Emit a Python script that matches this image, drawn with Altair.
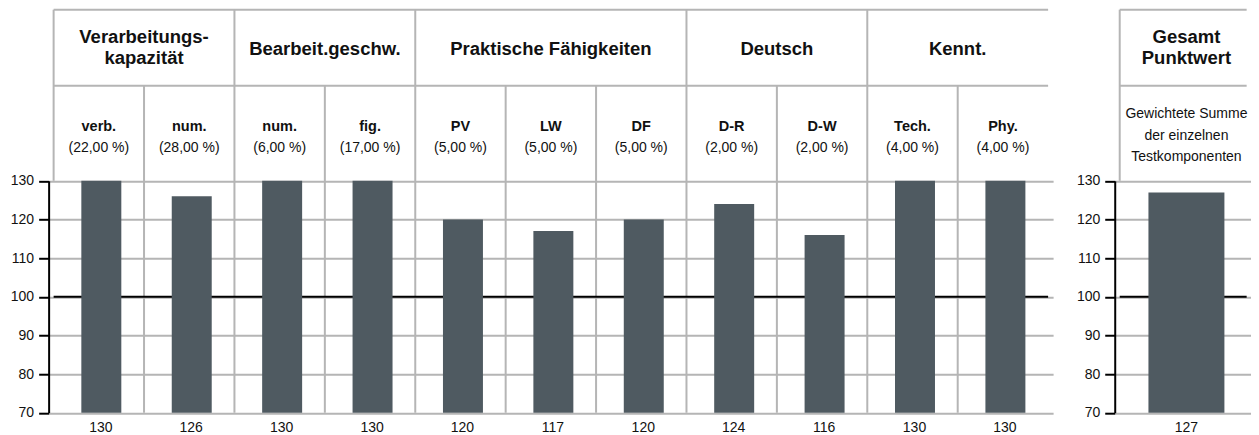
import altair as alt
import pandas as pd

# ---------------- data ----------------
groups = ["Verarbeitungs-\nkapazität", "Bearbeit.geschw.", "Praktische Fähigkeiten", "Deutsch", "Kennt."]
group_sizes = [2, 2, 3, 2, 2]
subtests = ["verb.", "num.", "num.", "fig.", "PV", "LW", "DF", "D-R", "D-W", "Tech.", "Phy."]
weights = [22, 28, 6, 17, 5, 5, 5, 2, 2, 4, 4]
scores = [130, 126, 130, 130, 120, 117, 120, 124, 116, 130, 130]
total_title = ["Gesamt\nPunktwert"]
total_note = ["Gewichtete Summe\nder einzelnen\nTestkomponenten"]
total_score = [127]
y_ticks = [70, 80, 90, 100, 110, 120, 130]
reference_line = 100

# ---------------- style ----------------
FONT = "Liberation Sans"
GRID = "#b5b5b5"
BAR = "#4f5a61"
TXT = "#111111"
LW = 1005
RW = 137
H = 405
Y_RANGE = [404.5, 172.5]
ROW_Y = 77.5
TOP_Y = 1.3
TITLE_Y = 41
TITLE_UP = 12.3
TITLE_LH = 20.6

n = len(subtests)
bars = pd.DataFrame({
    "pos": [i + 0.5 for i in range(n)],
    "score": scores,
    "sub": subtests,
    "weight": [f"({w:.2f} %)".replace(".", ",") for w in weights],
})
starts = []
s = 0
for g in group_sizes:
    starts.append(s)
    s += g
grp = pd.DataFrame({"title": groups, "mid": [st + g / 2 for st, g in zip(starts, group_sizes)]})
full_div = pd.DataFrame({"pos": starts[1:]})
part_div = pd.DataFrame({"pos": [i for i in range(1, n) if i not in starts]})
one = pd.DataFrame({"a": [0]})

ys = alt.Scale(domain=[70, 130], range=Y_RANGE, nice=False, zero=False)
yaxis = alt.Axis(values=y_ticks, grid=True, gridColor=GRID, gridWidth=2,
                 domainColor="black", domainWidth=2, tickColor="black", tickWidth=2,
                 tickSize=10, labelPadding=5, labelFontSize=14, labelFont=FONT,
                 labelColor=TXT, title=None)


def title_layers(title_df, title_field, title_x, xs):
    out = []
    for nl in (1, 2):
        out.append(
            alt.Chart(title_df)
            .transform_calculate(nl=f"length(split(datum.{title_field}, '\\n'))")
            .transform_filter(f"datum.nl == {nl}")
            .mark_text(font=FONT, fontSize=18.5, fontWeight="bold", color=TXT,
                       lineBreak="\n", lineHeight=TITLE_LH, baseline="middle")
            .encode(x=alt.X(title_x, scale=xs, axis=None),
                    y=alt.value(TITLE_Y - TITLE_UP * (nl - 1)),
                    text=f"{title_field}:N")
        )
    return out


def panel(xmax, bar_df, width, bar_size, bar_shift, title_df, title_field, title_x, header_layers):
    xs = alt.Scale(domain=[0, xmax], nice=False, zero=False)
    X = lambda f: alt.X(f, scale=xs, axis=None)
    top = alt.Chart(one).mark_rule(color=GRID, strokeWidth=2).encode(
        x=alt.XDatum(0, scale=xs, axis=None), x2=alt.X2Datum(xmax), y=alt.value(TOP_Y))
    row = alt.Chart(one).mark_rule(color=GRID, strokeWidth=2).encode(
        x=alt.XDatum(0, scale=xs, axis=None), x2=alt.X2Datum(xmax), y=alt.value(ROW_Y))
    left = alt.Chart(one).mark_rule(color=GRID, strokeWidth=2).encode(
        x=alt.XDatum(0, scale=xs, axis=None), y=alt.value(TOP_Y), y2=alt.value(Y_RANGE[1]))
    ref = alt.Chart(one).mark_rule(color="black", strokeWidth=2).encode(
        x=alt.XDatum(0, scale=xs, axis=None), x2=alt.X2Datum(xmax),
        y=alt.YDatum(reference_line, scale=ys, axis=yaxis))
    b = alt.Chart(bar_df).mark_bar(size=bar_size, color=BAR, xOffset=bar_shift).encode(
        x=X("pos:Q"), y=alt.Y("score:Q", scale=ys, axis=yaxis), y2=alt.Y2Datum(70))
    vals = alt.Chart(bar_df).mark_text(font=FONT, fontSize=14, color=TXT, baseline="alphabetic",
                                       dy=19, dx=bar_shift * 0.8).encode(
        x=X("pos:Q"), y=alt.YDatum(70, scale=ys, axis=yaxis), text="score:Q")
    layers = ([top, row, left] + [h(xs) for h in header_layers] + [ref, b, vals]
              + title_layers(title_df, title_field, title_x, xs))
    return alt.layer(*layers).properties(width=width, height=H)


def left_headers():
    def full(xs):
        return alt.Chart(full_div).mark_rule(color=GRID, strokeWidth=2).encode(
            x=alt.X("pos:Q", scale=xs, axis=None), y=alt.value(TOP_Y), y2=alt.value(Y_RANGE[0]))

    def part(xs):
        return alt.Chart(part_div).mark_rule(color=GRID, strokeWidth=2).encode(
            x=alt.X("pos:Q", scale=xs, axis=None), y=alt.value(ROW_Y), y2=alt.value(Y_RANGE[0]))

    def subs(xs):
        return alt.Chart(bars).mark_text(font=FONT, fontSize=14.5, fontWeight="bold", color=TXT,
                                         baseline="alphabetic").encode(
            x=alt.X("pos:Q", scale=xs, axis=None), y=alt.value(122.5), text="sub:N")

    def wts(xs):
        return alt.Chart(bars).mark_text(font=FONT, fontSize=14, color=TXT, baseline="alphabetic").encode(
            x=alt.X("pos:Q", scale=xs, axis=None), y=alt.value(143.6), text="weight:N")
    return [full, part, subs, wts]


tot = pd.DataFrame({"pos": [0.5], "score": total_score, "title": total_title, "note": total_note})


def right_headers():
    def note(xs):
        return alt.Chart(tot).mark_text(font=FONT, fontSize=14, color=TXT, baseline="alphabetic",
                                        lineBreak="\n", lineHeight=21.9).encode(
            x=alt.X("pos:Q", scale=xs, axis=None), y=alt.value(109.3), text="note:N")
    return [note]


left_chart = panel(n, bars, LW, 40, 2.5, grp, "title", "mid:Q", left_headers())
right_chart = panel(RW / 144, tot, RW, 76, 0, tot, "title", "pos:Q", right_headers())

chart = alt.hconcat(left_chart, right_chart, spacing=21.65).properties(
    padding={"left": 1.65, "top": -0.7, "right": -2, "bottom": 0}
).configure_view(stroke="transparent")

chart.save("out.html", embed_options={"renderer": "svg", "actions": False})
